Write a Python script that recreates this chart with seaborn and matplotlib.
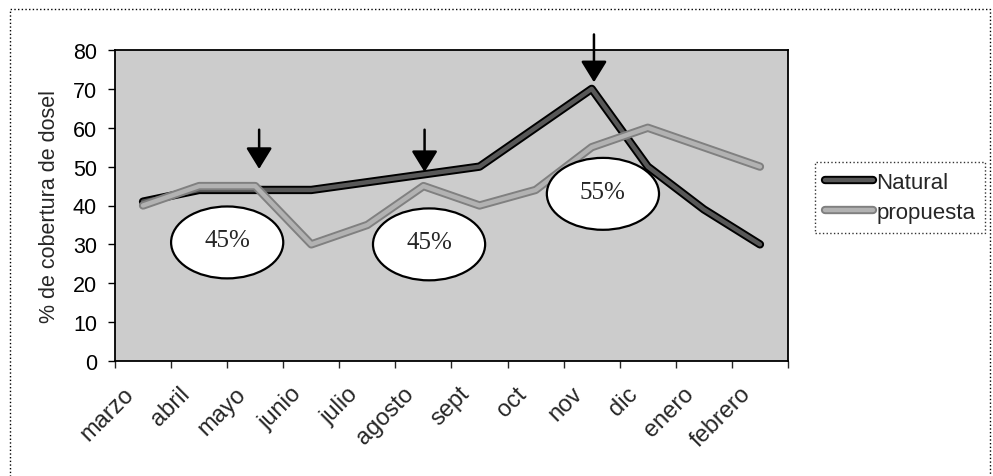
import matplotlib
matplotlib.use("Agg")
import matplotlib.pyplot as plt
import matplotlib.patheffects as pe
from matplotlib.patches import Ellipse, Rectangle
from matplotlib.lines import Line2D
from matplotlib.transforms import ScaledTranslation
import seaborn as sns
import pandas as pd
import numpy as np

months = ["marzo", "abril", "mayo", "junio", "julio", "agosto", "sept",
          "oct", "nov", "dic", "enero", "febrero"]
natural = [41, 44, 44, 44, 46, 48, 50, 60, 70, 50, 39, 30]
propuesta = [40, 45, 45, 30, 35, 45, 40, 44, 55, 60, 55, 50]
series_names = ["Natural", "propuesta"]
ellipse_labels = ["45%", "45%", "55%"]
arrow_months = ["mayo", "agosto", "nov"]

sns.set_theme(style="white")
plt.rcParams["font.family"] = ["Liberation Sans", "DejaVu Sans"]

df = pd.DataFrame({
    "mes": months * 2,
    "pos": list(np.arange(len(months)) + 0.5) * 2,
    "valor": natural + propuesta,
    "serie": [series_names[0]] * len(months) + [series_names[1]] * len(months),
})

fig = plt.figure(figsize=(9.93, 4.77), dpi=100)
ax = fig.add_axes([115 / 993, 1 - 362 / 477, (788 - 115) / 993, (362 - 51) / 477])
ax.set_facecolor("#cccccc")

palette = {"Natural": "#585858", "propuesta": "#b2b2b2"}
edges = {"Natural": "#000000", "propuesta": "#808080"}
sns.lineplot(data=df, x="pos", y="valor", hue="serie", palette=palette,
             linewidth=3.2, ax=ax, legend=False, sort=False)
for line, name in zip(ax.get_lines(), series_names):
    line.set_solid_capstyle("round")
    line.set_solid_joinstyle("round")
    line.set_path_effects([pe.Stroke(linewidth=6, foreground=edges[name]), pe.Normal()])
    line.set_zorder(3)

ax.set_xlim(0, len(months))
ax.set_ylim(0, 80)
ax.set_yticks(range(0, 81, 10))
ax.tick_params(axis="y", labelsize=15.5, length=5, width=1, direction="out",
               left=True, pad=8, colors="black")
ax.set_xticks(np.arange(0, len(months) + 1), [""] * (len(months) + 1))
ax.tick_params(axis="x", which="major", length=5, width=1, direction="out", bottom=True)
ax.set_xticks(np.arange(len(months)) + 0.5, months, minor=True)
ax.tick_params(axis="x", which="minor", length=0, pad=21, labelsize=17)
off = ScaledTranslation(-13 / 100, 0, fig.dpi_scale_trans)
for lab in ax.get_xticklabels(minor=True):
    lab.set_rotation(45)
    lab.set_ha("right")
    lab.set_va("center")
    lab.set_rotation_mode("anchor")
    lab.set_transform(lab.get_transform() + off)

for s in ax.spines.values():
    s.set_visible(True)
    s.set_color("black")
    s.set_linewidth(1.3)

ax.set_xlabel("")
ax.set_ylabel("% de cobertura de dosel", fontsize=15.5, labelpad=9)

# arrows pointing at the Natural line
arrow_x_off = [0.07, 0.02, 0.04]
tip_off = [5.4, 0.6, 1.7]
tail_val = [59.5, 59.5, 84]
for m, dx, tip, tail in zip(arrow_months, arrow_x_off, tip_off, tail_val):
    i = months.index(m)
    x = i + 0.5 + dx
    ax.annotate("", xy=(x, natural[i] + tip), xytext=(x, tail),
                arrowprops=dict(arrowstyle="-|>,head_length=0.65,head_width=0.4",
                                mutation_scale=20, color="black", lw=1.8,
                                shrinkA=0, shrinkB=0),
                zorder=5, annotation_clip=False)

# ellipses with percentages
ell_pos = [(2.0, 30.5), (5.6, 30), (8.7, 43)]
for (cx, cy), t in zip(ell_pos, ellipse_labels):
    e = Ellipse((cx, cy), width=2.0, height=18.5, facecolor="white",
                edgecolor="black", linewidth=1.6, zorder=4)
    ax.add_patch(e)
    ax.text(cx, cy + 0.5, t, ha="center", va="center", fontsize=18,
            family=["Liberation Serif", "DejaVu Serif"], zorder=6)

# legend
handles = []
for name in series_names:
    h = Line2D([0], [0], color=palette[name], lw=3.2,
               path_effects=[pe.Stroke(linewidth=6, foreground=edges[name]), pe.Normal()],
               solid_capstyle="round")
    handles.append(h)
leg = fig.legend(handles, series_names, loc="upper left",
                 bbox_to_anchor=(815 / 993, 1 - 163 / 477), frameon=True,
                 fontsize=16, handlelength=2.15, handletextpad=0.15,
                 borderpad=0.45, labelspacing=0.4, fancybox=False,
                 borderaxespad=0)
leg.get_frame().set_edgecolor("black")
leg.get_frame().set_linewidth(1)
leg.get_frame().set_linestyle(":")

# outer chart border
fig.patches.append(Rectangle((10 / 993, -0.05), (990 - 10) / 993, 1.05 - 10 / 477,
                             transform=fig.transFigure, fill=False,
                             edgecolor="black", linewidth=1, linestyle=":"))

fig.savefig("out.png", dpi=100, facecolor="white")
